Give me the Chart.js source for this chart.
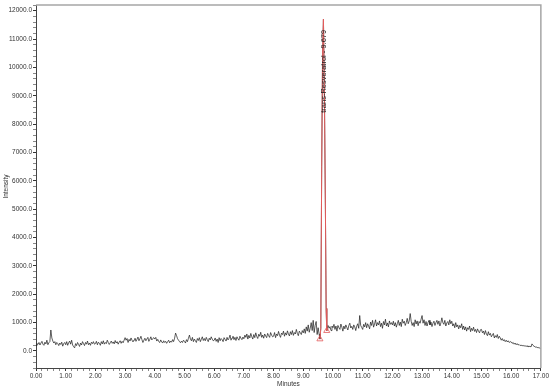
<!DOCTYPE html>
<html>
<head>
<meta charset="utf-8">
<script src="https://cdn.jsdelivr.net/npm/chart.js@4.4.0/dist/chart.umd.min.js"></script>
<style>
  html, body { margin: 0; padding: 0; background: #fff; }
  canvas { display: block; }
</style>
</head>
<body>
<canvas id="chrom" width="550" height="389"></canvas>
<script>
// detector trace, one row per minute, 30 readings per minute
const PER_MINUTE = 30;
const baseline = [
  [190, 260, 230, 300, 210, 280, 340, 240, 200, 310, 250, 380, 220, 290, 330, 740, 460, 350, 280, 330, 220, 300, 260, 190, 280, 230, 310, 170, 260, 300],
  [220, 330, 200, 290, 350, 240, 380, 210, 150, 110, 260, 190, 300, 230, 160, 280, 210, 330, 260, 190, 300, 240, 350, 220, 280, 200, 310, 260, 330, 240],
  [260, 340, 220, 310, 270, 200, 330, 250, 360, 240, 300, 260, 380, 300, 230, 290, 350, 270, 320, 250, 370, 280, 330, 240, 310, 360, 270, 340, 290, 380],
  [470, 380, 440, 300, 410, 350, 460, 380, 320, 390, 450, 340, 410, 490, 360, 430, 520, 400, 300, 380, 450, 360, 420, 480, 340, 410, 500, 390, 440, 470],
  [420, 480, 350, 410, 330, 300, 390, 320, 280, 360, 300, 340, 270, 330, 380, 290, 350, 310, 400, 330, 450, 630, 540, 430, 380, 330, 290, 350, 300, 380],
  [340, 280, 400, 330, 450, 560, 420, 360, 480, 330, 420, 360, 300, 440, 370, 470, 330, 410, 500, 370, 440, 360, 480, 400, 330, 450, 390, 500, 420, 360],
  [380, 460, 340, 420, 300, 470, 360, 440, 400, 330, 470, 410, 350, 480, 390, 450, 560, 380, 460, 520, 400, 480, 370, 500, 430, 380, 520, 450, 400, 490],
  [430, 560, 480, 600, 420, 550, 460, 620, 500, 420, 580, 470, 640, 510, 440, 590, 520, 660, 480, 560, 450, 600, 530, 470, 620, 540, 480, 650, 560, 500],
  [520, 650, 470, 600, 540, 690, 560, 480, 630, 580, 700, 520, 640, 560, 710, 600, 530, 680, 580, 720, 550, 650, 600, 760, 620, 540, 700, 640, 580, 720],
  [640, 780, 620, 850, 700, 920, 660, 800, 1000, 720, 1080, 650, 900, 1040, 580, 820, 600, 700, 700, 700, 700, 700, 700, 700, 760, 900, 800, 860, 720, 880],
  [820, 940, 760, 880, 700, 900, 820, 760, 950, 840, 700, 880, 780, 920, 830, 740, 900, 980, 810, 870, 760, 920, 850, 720, 880, 960, 800, 1250, 900, 830],
  [760, 940, 850, 1000, 820, 960, 880, 780, 1020, 900, 1080, 840, 950, 1100, 880, 1000, 920, 1060, 860, 980, 800, 1040, 920, 1120, 880, 990, 850, 1060, 940, 1000],
  [920, 1050, 880, 1000, 840, 960, 1080, 900, 1020, 860, 1120, 980, 1050, 900, 1000, 1150, 960, 1060, 1320, 1050, 900, 1000, 860, 1100, 950, 1060, 890, 1040, 980, 1120],
  [1250, 980, 1100, 900, 1040, 880, 1000, 1080, 920, 1020, 860, 980, 1050, 900, 1000, 1080, 940, 1060, 880, 990, 1170, 1000, 940, 1080, 880, 990, 1040, 920, 1100, 960],
  [1050, 880, 960, 820, 1000, 850, 920, 780, 900, 820, 960, 760, 880, 740, 850, 700, 820, 760, 880, 680, 800, 720, 840, 690, 760, 650, 780, 700, 640, 750],
  [760, 640, 700, 580, 720, 600, 540, 680, 560, 620, 500, 560, 620, 460, 540, 480, 580, 440, 520, 460, 380, 440, 360, 400, 330, 380, 320, 360, 300, 330],
  [320, 270, 300, 240, 280, 220, 260, 210, 230, 190, 210, 180, 200, 170, 190, 160, 180, 160, 150, 170, 140, 250, 200, 170, 150, 130, 140, 110, 120, 100],
  [80]
];

// integrated peak
const peakName = "trans-Resveratrol";
const peakRT = 9.679;
const peakTimes = [9.56, 9.59, 9.62, 9.65, 9.679, 9.715, 9.745, 9.77, 9.79];
const peakValues = [420, 800, 6500, 10500, 11700, 8600, 5000, 1500, 715];
const peakLabelAt = 8400;

const xTickLabels = ["0.00","1.00","2.00","3.00","4.00","5.00","6.00","7.00","8.00","9.00",
  "10.00","11.00","12.00","13.00","14.00","15.00","16.00","17.00"];
const yTickLabels = ["0.0","1000.0","2000.0","3000.0","4000.0","5000.0","6000.0",
  "7000.0","8000.0","9000.0","10000.0","11000.0","12000.0"];

function buildTrace() {
  const pts = [];
  baseline.forEach((row, m) => {
    row.forEach((v, i) => {
      const t = m + i / PER_MINUTE;
      if (t > peakTimes[0] && t < peakTimes[peakTimes.length - 1]) return;
      pts.push({ x: t, y: v });
    });
  });
  peakTimes.forEach((t, i) => pts.push({ x: t, y: peakValues[i] }));
  pts.sort((a, b) => a.x - b.x);
  return pts;
}

const peakPoints = peakTimes.map((t, i) => ({ x: t, y: peakValues[i] }));
const tickFont = { family: "'Liberation Sans', Arial, sans-serif", size: 6.5 };
const isWhole = (v, step) => Math.abs(v / step - Math.round(v / step)) < 1e-6;

const framePlugin = {
  id: "frame",
  afterDraw(chart) {
    const { ctx, chartArea: a } = chart;
    ctx.save();
    ctx.strokeStyle = "#a6a6a6";
    ctx.lineWidth = 1.5;
    ctx.beginPath();
    ctx.moveTo(a.left, a.top);
    ctx.lineTo(a.right, a.top);
    ctx.lineTo(a.right, a.bottom);
    ctx.stroke();

    // peak name, written up along the peak
    const x = chart.scales.x.getPixelForValue(peakRT);
    const y = chart.scales.y.getPixelForValue(peakLabelAt);
    ctx.translate(x, y);
    ctx.rotate(-Math.PI / 2);
    ctx.font = "7.5px 'Liberation Sans', Arial, sans-serif";
    ctx.fillStyle = "#222";
    ctx.textAlign = "left";
    ctx.textBaseline = "middle";
    ctx.fillText(peakName + " - " + peakRT.toFixed(3), 0, 0);
    ctx.restore();
  }
};

new Chart(document.getElementById("chrom"), {
  type: "line",
  data: {
    datasets: [
      {
        data: buildTrace(),
        order: 2,
        borderColor: "#1a1a1a",
        borderWidth: 0.7,
        pointRadius: 0,
        tension: 0
      },
      {
        data: peakPoints,
        order: 1,
        borderColor: "#e35b5b",
        borderWidth: 1,
        pointStyle: "triangle",
        pointRadius: peakPoints.map((p, i) => (i === 0 || i === peakPoints.length - 1 ? 3.5 : 0)),
        pointBorderColor: "#e35b5b",
        pointBackgroundColor: "rgba(0,0,0,0)",
        pointBorderWidth: 0.8,
        tension: 0
      }
    ]
  },
  options: {
    responsive: false,
    devicePixelRatio: 1,
    animation: false,
    layout: { padding: { top: 5, right: 9, left: 0, bottom: 0 } },
    plugins: { legend: { display: false }, tooltip: { enabled: false } },
    scales: {
      x: {
        type: "linear",
        min: 0,
        max: 17,
        afterFit: (s) => { s.height = 21; },
        border: { color: "#444", width: 1 },
        grid: {
          drawOnChartArea: false,
          tickLength: 3,
          tickColor: (c) => (isWhole(c.tick.value, 1) ? "#333" : "#888")
        },
        ticks: {
          stepSize: 0.2,
          autoSkip: false,
          maxRotation: 0,
          padding: 1,
          color: "#333",
          font: tickFont,
          callback: (v) => (isWhole(v, 1) ? xTickLabels[Math.round(v)] : "")
        },
        title: {
          display: true,
          text: "Minutes",
          color: "#333",
          font: tickFont,
          padding: { top: 0, bottom: 1 }
        }
      },
      y: {
        min: -600,
        max: 12200,
        afterFit: (s) => { s.width = 36; },
        border: { color: "#444", width: 1 },
        grid: {
          drawOnChartArea: false,
          tickLength: 3,
          tickColor: (c) => (isWhole(c.tick.value, 1000) ? "#333" : "#888")
        },
        ticks: {
          stepSize: 200,
          autoSkip: false,
          padding: 1,
          color: "#333",
          font: tickFont,
          callback: (v) => (isWhole(v, 1000) && v >= 0 ? yTickLabels[Math.round(v / 1000)] : "")
        },
        title: {
          display: true,
          text: "Intensity",
          color: "#333",
          font: tickFont,
          padding: { top: 2, bottom: 0 }
        }
      }
    }
  },
  plugins: [framePlugin]
});
</script>
</body>
</html>
